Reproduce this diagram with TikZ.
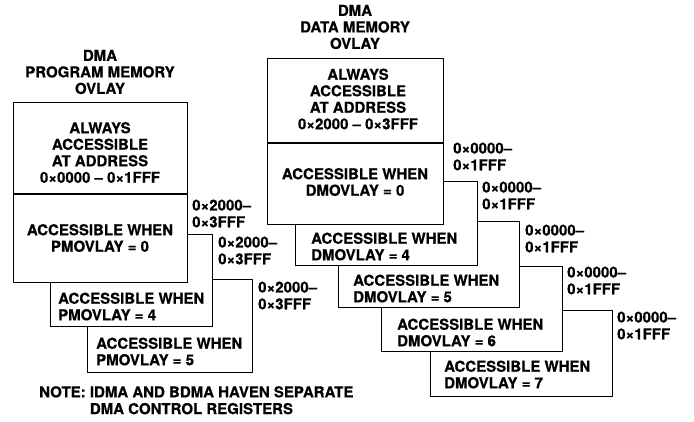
\documentclass[tikz,border=0pt]{standalone}
\usepackage{fontspec}
\setmainfont{TeX Gyre Heros}[BoldFeatures={FakeBold=0.6}]
\usepackage{tikz}
\usetikzlibrary{positioning, calc}

\begin{document}
\begin{tikzpicture}[x=1pt, y=-1pt,
          box/.style={rectangle, draw, line width=1.2pt, fill=white,
                      inner sep=0pt, anchor=north west},
          txt/.style={font=\fontsize{15}{16.5}\selectfont\bfseries,
                      align=center, inner sep=0pt},
          lbl/.style={font=\fontsize{15}{16.8}\selectfont\bfseries,
                      align=left, inner sep=0pt, anchor=west}
        ]
        \useasboundingbox (0,0) rectangle (694,421);

        % Data memory overlay (right), back to front
        \foreach \n/\x/\y/\w/\h/\tx/\ty/\lx/\ly in
            {7/430/310/182/86/444/366/617/317,
             6/381/266/181/85/397/324/567/272,
             5/338/221/181/86/353/280/525/230,
             4/295/181/182/84/311/238/482/187} {
          \node[box, minimum width=\w pt, minimum height=\h pt] (dm\n) at (\x,\y) {};
          \node[txt, align=left, anchor=west] (dmt\n) at (\tx,\ty+8.5)
            {ACCESSIBLE WHEN\\DMOVLAY = \n};
          \node[lbl] (dml\n) at (\lx,\ly+8.5) {0×0000–\\0×1FFF};
        }
        \node[box, minimum width=176pt, minimum height=166pt] (dmtop) at (267,58) {};
        \draw[line width=1.2pt] (dmtop.west |- 0,143) -- (dmtop.east |- 0,143);
        \node[txt] (dmhead) at (355,27) {DMA\\DATA MEMORY\\OVLAY};
        \node[txt] (dmall) at (358,99)
          {ALWAYS\\ACCESSIBLE\\AT ADDRESS\\0×2000 – 0×3FFF};
        \node[txt] (dmt0) at (355,182) {ACCESSIBLE WHEN\\DMOVLAY = 0};
        \node[lbl] (dml0) at (453,156.5) {0×0000–\\0×1FFF};

        % Program memory overlay (left), back to front
        \foreach \n/\x/\y/\w/\h/\tx/\ty in
            {5/87/279/165/93/96/343,
             4/50/234/162/92/58/298} {
          \node[box, minimum width=\w pt, minimum height=\h pt] (pm\n) at (\x,\y) {};
          \node[txt, align=left, anchor=west] (pmt\n) at (\tx,\ty+8.5)
            {ACCESSIBLE WHEN\\PMOVLAY = \n};
        }
        \node[box, minimum width=174pt, minimum height=180pt] (pmtop) at (13,102) {};
        \draw[line width=1.2pt] (pmtop.west |- 0,194) -- (pmtop.east |- 0,194);
        \node[txt] (pmhead) at (100,72) {DMA\\PROGRAM MEMORY\\OVLAY};
        \node[txt] (pmall) at (100,152.5)
          {ALWAYS\\ACCESSIBLE\\AT ADDRESS\\0×0000 – 0×1FFF};
        \node[txt] (pmt0) at (100,238) {ACCESSIBLE WHEN\\PMOVLAY = 0};
        \foreach \i/\lx/\ly in {0/192/205, 4/218/242, 5/258/287} {
          \node[lbl] (pml\i) at (\lx,\ly+8.5) {0×2000–\\0×3FFF};
        }

        % note
        \node[lbl, anchor=north west] (note) at (39,386)
          {NOTE: IDMA AND BDMA HAVEN SEPARATE\\
           \phantom{NOTE: }DMA CONTROL REGISTERS};
      \end{tikzpicture}
\end{document}
